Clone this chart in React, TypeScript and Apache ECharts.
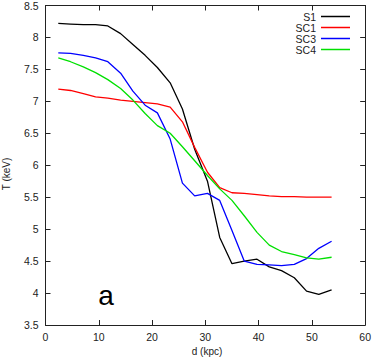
import React, { useEffect, useRef } from "react";
import * as echarts from "echarts";

const distances = [2.4, 4.7, 7.1, 9.4, 11.7, 14.1, 16.4, 18.7, 21.0, 23.4, 25.7, 28.0, 30.4, 32.7, 35.0, 37.3, 39.7, 42.0, 44.3, 46.7, 49.0, 51.3, 53.7];
const s1 = [8.22, 8.21, 8.2, 8.2, 8.18, 8.06, 7.89, 7.72, 7.53, 7.29, 6.88, 6.25, 5.75, 4.87, 4.46, 4.5, 4.53, 4.41, 4.35, 4.24, 4.03, 3.98, 4.05];
const sc1 = [7.19, 7.17, 7.12, 7.07, 7.05, 7.02, 7.0, 6.98, 6.96, 6.91, 6.68, 6.28, 5.89, 5.65, 5.57, 5.56, 5.54, 5.52, 5.51, 5.51, 5.5, 5.5, 5.5];
const sc3 = [7.76, 7.75, 7.72, 7.68, 7.62, 7.44, 7.16, 6.94, 6.82, 6.41, 5.72, 5.52, 5.56, 5.45, 4.98, 4.5, 4.45, 4.44, 4.43, 4.45, 4.54, 4.7, 4.81];
const sc4 = [7.68, 7.62, 7.54, 7.45, 7.34, 7.2, 7.02, 6.81, 6.62, 6.5, 6.29, 6.07, 5.84, 5.63, 5.45, 5.21, 4.95, 4.75, 4.65, 4.6, 4.55, 4.53, 4.56];
const seriesNames = ["S1", "SC1", "SC3", "SC4"];
const seriesValues = [s1, sc1, sc3, sc4];
const seriesColors = ["#000000", "#ff0000", "#0000ff", "#00e000"];

const FONT = "Liberation Sans, Arial, sans-serif";
const AXIS_COLOR = "#222";

export default function App() {
  const ref = useRef<HTMLDivElement>(null);
  useEffect(() => {
    if (!ref.current) return;
    const chart = echarts.init(ref.current, null, { renderer: "svg" });
    const axisLine = { show: true, onZero: false, lineStyle: { color: AXIS_COLOR, width: 1 } };
    const axisTick = { show: true, inside: true, length: 5, lineStyle: { color: AXIS_COLOR, width: 1 } };
    const label = { color: "#222", fontSize: 10.5, fontFamily: FONT };
    chart.setOption({
      animation: false,
      backgroundColor: "#fff",
      grid: { left: 45.5, right: 6, top: 4, bottom: 32, containLabel: false },
      legend: {
        right: 19,
        top: 6,
        orient: "vertical",
        align: "right",
        itemWidth: 29,
        itemHeight: 1.5,
        itemGap: 0,
        icon: "rect",
        textStyle: { color: "#222", fontSize: 10.5, fontFamily: FONT, lineHeight: 10.4, padding: [0, 0, 0, 0] },
        data: seriesNames,
      },
      xAxis: [
        {
          type: "value", min: 0, max: 60, interval: 10, position: "bottom",
          axisLine, axisTick, splitLine: { show: false },
          axisLabel: { ...label, margin: 6 },
        },
        {
          type: "value", min: 0, max: 60, interval: 10, position: "top",
          axisLine, axisTick, splitLine: { show: false }, axisLabel: { show: false },
        },
      ],
      yAxis: [
        {
          type: "value", min: 3.5, max: 8.5, interval: 0.5, position: "left",
          axisLine, axisTick, splitLine: { show: false },
          axisLabel: { ...label, margin: 7 },
        },
        {
          type: "value", min: 3.5, max: 8.5, interval: 0.5, position: "right",
          axisLine, axisTick, splitLine: { show: false }, axisLabel: { show: false },
        },
      ],
      graphic: [
        {
          type: "text", x: 6, y: 174, rotation: Math.PI / 2,
          style: { text: "T (keV)", fill: "#222", font: `10px ${FONT}`, textAlign: "center", textVerticalAlign: "middle" },
        },
        {
          type: "text", x: 207, y: 351,
          style: { text: "d (kpc)", fill: "#222", font: `10px ${FONT}`, textAlign: "center", textVerticalAlign: "middle" },
        },
        {
          type: "text", x: 106, y: 295,
          style: { text: "a", fill: "#000", font: `28px ${FONT}`, textAlign: "center", textVerticalAlign: "middle" },
        },
      ],
      series: seriesNames.map((name, i) => ({
        name,
        type: "line",
        xAxisIndex: 0,
        yAxisIndex: 0,
        symbol: "none",
        color: seriesColors[i],
        lineStyle: { color: seriesColors[i], width: 1.3 },
        data: distances.map((d, k) => [d, seriesValues[i][k]]),
      })),
    });
    return () => chart.dispose();
  }, []);
  return <div ref={ref} style={{ width: 374, height: 357, position: "absolute", left: 0, top: 0 }} />;
}
